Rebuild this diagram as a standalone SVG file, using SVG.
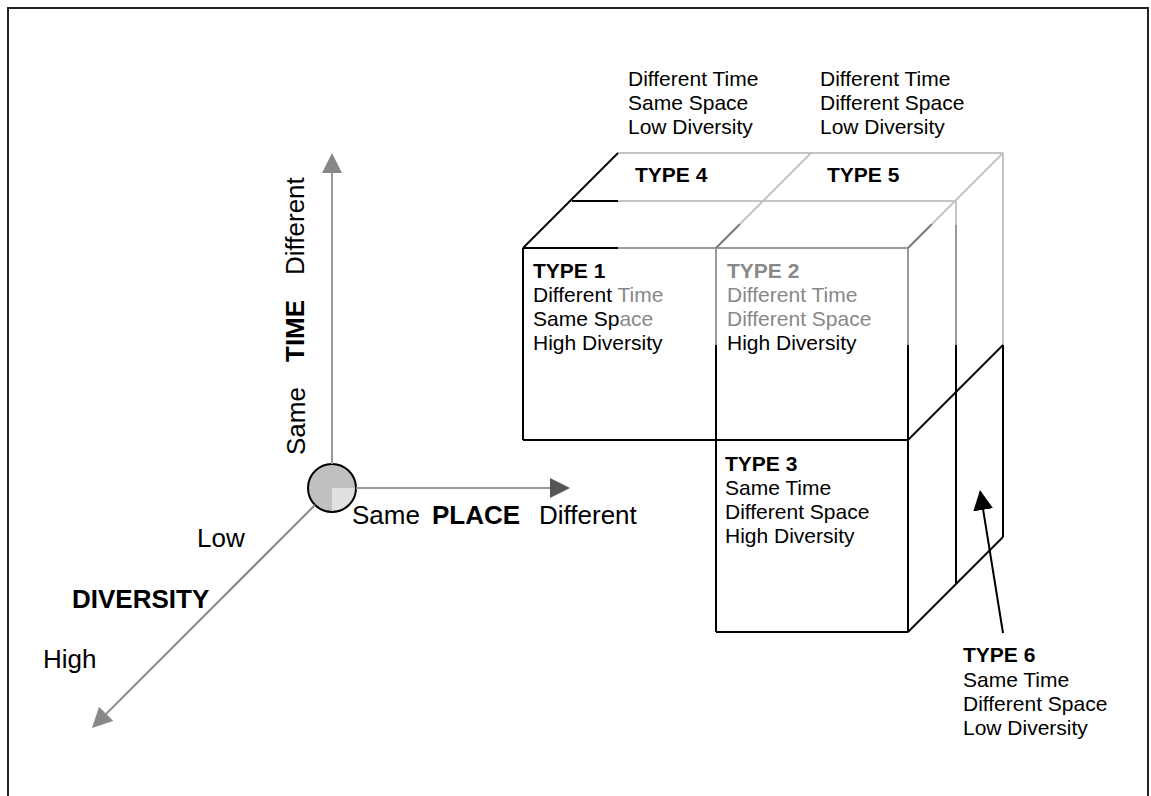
<svg xmlns="http://www.w3.org/2000/svg" width="1151" height="796" viewBox="0 0 1151 796">
<style>
.t{font-family:"Liberation Sans",Arial,sans-serif;font-size:21px;fill:#000}
.ax{font-size:26px}
.b{font-weight:bold}
.g{fill:#888}
.e{fill:none;stroke-width:2}
.k{stroke:#000}
.lg{stroke:#c4c4c4}
.mg{stroke:#999}
.dg{stroke:#777}
</style>
<defs>
<marker id="ag" viewBox="0 0 20 20" refX="18" refY="10" markerWidth="20" markerHeight="20" markerUnits="userSpaceOnUse" orient="auto"><path d="M0,0 L20,10 L0,20 Z" fill="#888"/></marker>
<marker id="ad" viewBox="0 0 20 20" refX="18" refY="10" markerWidth="20" markerHeight="20" markerUnits="userSpaceOnUse" orient="auto"><path d="M0,0 L20,10 L0,20 Z" fill="#555"/></marker>
<marker id="ak" viewBox="0 0 20 20" refX="18" refY="10" markerWidth="20" markerHeight="20" markerUnits="userSpaceOnUse" orient="auto"><path d="M0,0 L20,10 L0,20 Z" fill="#000"/></marker>
</defs>
<rect x="0" y="0" width="1151" height="796" fill="#fff"/>
<rect x="8" y="8" width="1140" height="800" fill="none" stroke="#222" stroke-width="2"/>

<g id="cube-edges">
<line class="e lg" x1="618" y1="153" x2="1003" y2="153"/>
<line class="e k" x1="618" y1="153" x2="523" y2="248"/>
<line class="e k" x1="572" y1="201" x2="618" y2="201"/>
<line class="e lg" x1="618" y1="201" x2="956" y2="201"/>
<line class="e k" x1="523" y1="248" x2="618" y2="248"/>
<line class="e mg" x1="618" y1="248" x2="908" y2="248"/>
<line class="e dg" x1="716" y1="248" x2="740" y2="224"/>
<line class="e lg" x1="740" y1="224" x2="811" y2="153"/>
<line class="e dg" x1="908" y1="248" x2="932" y2="224"/>
<line class="e lg" x1="932" y1="224" x2="1003" y2="153"/>
<line class="e mg" x1="716" y1="248" x2="716" y2="345"/>
<line class="e k" x1="716" y1="345" x2="716" y2="632"/>
<line class="e mg" x1="908" y1="248" x2="908" y2="345"/>
<line class="e k" x1="908" y1="345" x2="908" y2="632"/>
<line class="e lg" x1="956" y1="201" x2="956" y2="225"/>
<line class="e mg" x1="956" y1="225" x2="956" y2="345"/>
<line class="e k" x1="956" y1="345" x2="956" y2="583"/>
<line class="e lg" x1="1003" y1="153" x2="1003" y2="345"/>
<line class="e k" x1="1003" y1="345" x2="1003" y2="537"/>
<line class="e k" x1="523" y1="248" x2="523" y2="440"/>
<line class="e k" x1="523" y1="440" x2="908" y2="440"/>
<line class="e k" x1="716" y1="632" x2="908" y2="632"/>
<line class="e k" x1="908" y1="440" x2="1003" y2="345"/>
<line class="e k" x1="908" y1="632" x2="1003" y2="537"/>
</g>

<g id="type1">
<text class="t b" x="533" y="278">TYPE 1</text>
<text class="t" x="533" y="302">Different <tspan class="g">Time</tspan></text>
<text class="t" x="533" y="326">Same Sp<tspan class="g">ace</tspan></text>
<text class="t" x="533" y="350">High Diversity</text>
</g>
<g id="type2">
<text class="t b g" x="727" y="278">TYPE 2</text>
<text class="t g" x="727" y="302">Different Time</text>
<text class="t g" x="727" y="326">Different Space</text>
<text class="t" x="727" y="350">High Diversity</text>
</g>
<g id="type3">
<text class="t b" x="725" y="471">TYPE 3</text>
<text class="t" x="725" y="495">Same Time</text>
<text class="t" x="725" y="519">Different Space</text>
<text class="t" x="725" y="543">High Diversity</text>
</g>
<g id="type4">
<text class="t b" x="635" y="182">TYPE 4</text>
<text class="t" x="628" y="86">Different Time</text>
<text class="t" x="628" y="110">Same Space</text>
<text class="t" x="628" y="134">Low Diversity</text>
</g>
<g id="type5">
<text class="t b" x="827" y="182">TYPE 5</text>
<text class="t" x="820" y="86">Different Time</text>
<text class="t" x="820" y="110">Different Space</text>
<text class="t" x="820" y="134">Low Diversity</text>
</g>
<g id="type6">
<text class="t b" x="963" y="662">TYPE 6</text>
<text class="t" x="963" y="687">Same Time</text>
<text class="t" x="963" y="711">Different Space</text>
<text class="t" x="963" y="735">Low Diversity</text>
</g>

<g id="origin">
<circle cx="332" cy="488" r="24" fill="#c0c0c0"/>
<path d="M332,488 L356,488 A24,24 0 0 1 332,512 Z" fill="#e0e0e0"/>
<circle cx="332" cy="488" r="24" fill="none" stroke="#000" stroke-width="2"/>
</g>

<g id="axis-labels">
<text class="t ax" transform="translate(305,455) rotate(-90)">Same</text>
<text class="t ax b" transform="translate(304,362) rotate(-90)">TIME</text>
<text class="t ax" transform="translate(304,275) rotate(-90)">Different</text>
<text class="t ax" x="352" y="524">Same</text>
<text class="t ax b" x="432" y="524">PLACE</text>
<text class="t ax" x="539" y="524">Different</text>
<text class="t ax" x="197" y="547">Low</text>
<text class="t ax b" x="72" y="608">DIVERSITY</text>
<text class="t ax" x="43" y="668">High</text>
</g>

<g id="connectors">
<line x1="332" y1="464" x2="332" y2="155" stroke="#999" stroke-width="2" marker-end="url(#ag)"/>
<line x1="356" y1="488" x2="568" y2="488" stroke="#999" stroke-width="2" marker-end="url(#ad)"/>
<line x1="315" y1="505" x2="93.4" y2="726.6" stroke="#888" stroke-width="2" marker-end="url(#ag)"/>
<line x1="1003" y1="633" x2="980.3" y2="492" stroke="#000" stroke-width="2" marker-end="url(#ak)"/>
</g>
</svg>
